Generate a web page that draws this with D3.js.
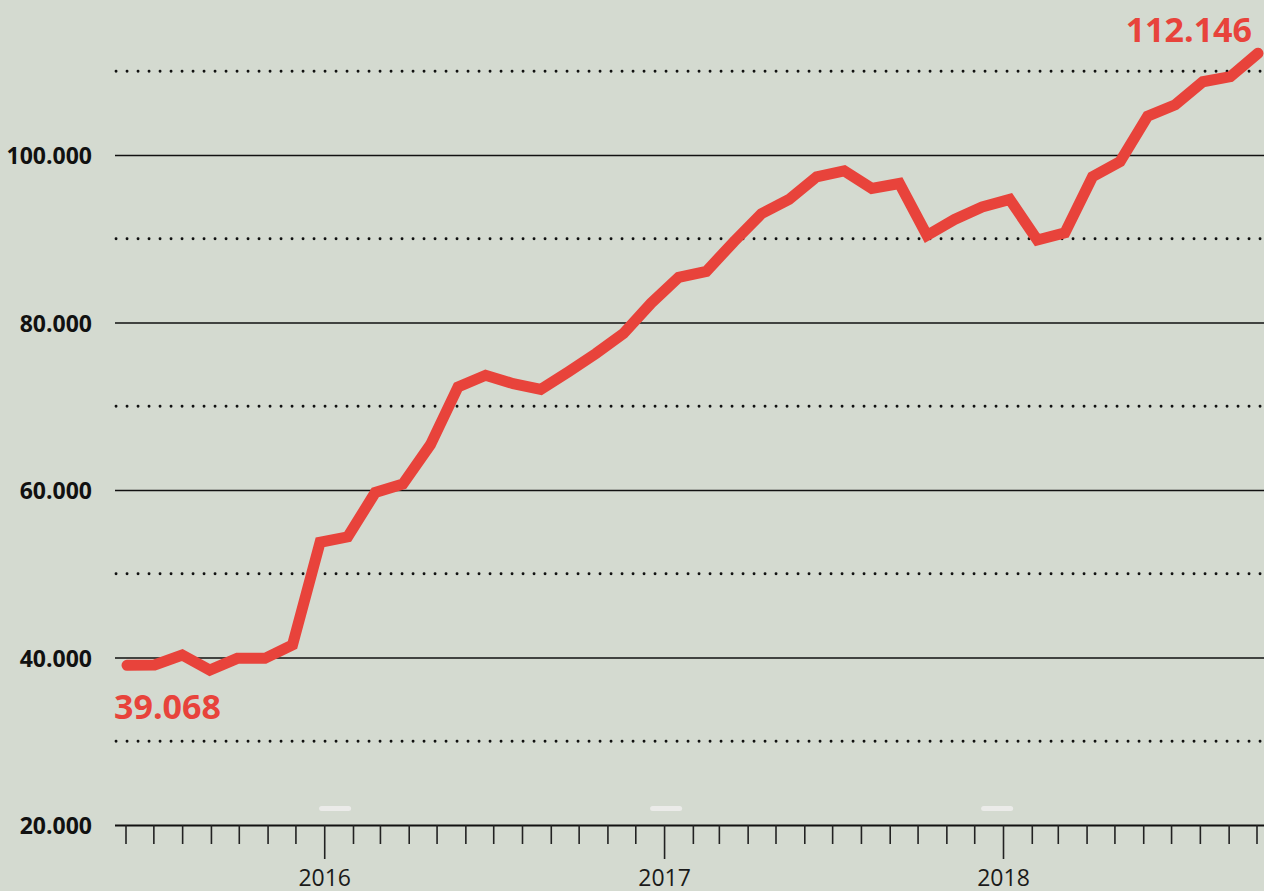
<!DOCTYPE html>
<html>
<head>
<meta charset="utf-8">
<script src="https://cdn.jsdelivr.net/npm/d3@7"></script>
<style>
    html, body { margin:0; padding:0; background:#d4dad0; }
    svg { display:block; font-family:"Open Sans", "Noto Sans", sans-serif; }
</style>
</head>
<body>
<div id="chart"></div>
<script>
//DATA
const months = [
    "2015-06","2015-07","2015-08","2015-09","2015-10","2015-11","2015-12",
    "2016-01","2016-02","2016-03","2016-04","2016-05","2016-06","2016-07",
    "2016-08","2016-09","2016-10","2016-11","2016-12","2017-01","2017-02",
    "2017-03","2017-04","2017-05","2017-06","2017-07","2017-08","2017-09",
    "2017-10","2017-11","2017-12","2018-01","2018-02","2018-03","2018-04",
    "2018-05","2018-06","2018-07","2018-08","2018-09","2018-10","2018-11"
];
const values = [
    39068, 39100, 40300, 38500, 39900, 39900, 41500,
    53750, 54400, 59700, 60700, 65400, 72300, 73700,
    72700, 72000, 74100, 76300, 78700, 82300, 85400,
    86100, 89650, 93000, 94700, 97400, 98100, 96000,
    96600, 90400, 92300, 93800, 94700, 89850, 90700,
    97400, 99200, 104650, 106000, 108750, 109350, 112146
];
const solidTicks = [40000, 60000, 80000, 100000];
const dottedTicks = [30000, 50000, 70000, 90000, 110000];
const yLabelTicks = [20000, 40000, 60000, 80000, 100000];
const yearMarks = ["2016-01", "2017-01", "2018-01"];
const axisStart = "2015-06-01";
const axisEnd = "2018-10-01";

//SETTINGS
const width = 1264;
const height = 891;
const RED = "#e8433b";
const INK = "#111";

const svg = d3.select("#chart").append("svg")
    .attr("width", width)
    .attr("height", height);

svg.append("rect")
    .attr("width", width)
    .attr("height", height)
    .attr("fill", "#d4dad0");

//scales
const y = d3.scaleLinear().domain([20000, 100000]).range([825, 155]);
const x = d3.scalePoint().domain(months).range([127, 1258]);
const parse = d3.timeParse("%Y-%m-%d");
const xTime = d3.scaleTime().domain([parse(axisStart), parse(axisEnd)]).range([126, 1257]);

const gridLeft = 115;
const gridRight = width;
const fmt = v => d3.format(",")(v).replace(/,/g, ".");

//grid
svg.append("g").attr("class", "grid-dotted")
    .selectAll("line").data(dottedTicks)
    .join("line")
        .attr("x1", gridLeft + 1)
        .attr("x2", gridRight)
        .attr("y1", d => y(d))
        .attr("y2", d => y(d))
        .attr("stroke", INK)
        .attr("stroke-width", 2.8)
        .attr("stroke-linecap", "round")
        .attr("stroke-dasharray", "0.1,10.9");

svg.append("g").attr("class", "grid-solid")
    .selectAll("line").data(solidTicks)
    .join("line")
        .attr("x1", gridLeft)
        .attr("x2", gridRight)
        .attr("y1", d => y(d) + 0.5)
        .attr("y2", d => y(d) + 0.5)
        .attr("stroke", INK)
        .attr("stroke-width", 1.4);

//y labels
svg.append("g").attr("class", "y-labels")
    .selectAll("text").data(yLabelTicks)
    .join("text")
        .attr("x", 92)
        .attr("y", d => y(d))
        .attr("text-anchor", "end")
        .attr("dominant-baseline", "central")
        .attr("font-size", 23)
        .attr("font-weight", 700)
        .attr("fill", INK)
        .text(d => fmt(d));

//x axis
const axisG = svg.append("g").attr("class", "x-axis");
axisG.append("line")
    .attr("x1", gridLeft)
    .attr("x2", gridRight)
    .attr("y1", y(20000) + 0.5)
    .attr("y2", y(20000) + 0.5)
    .attr("stroke", INK)
    .attr("stroke-width", 2);

const monthTicks = xTime.ticks(d3.timeMonth.every(1));
axisG.selectAll("line.minor").data(monthTicks.filter(d => d.getMonth() !== 0))
    .join("line")
        .attr("class", "minor")
        .attr("x1", d => xTime(d))
        .attr("x2", d => xTime(d))
        .attr("y1", y(20000))
        .attr("y2", y(20000) + 19)
        .attr("stroke", "#222")
        .attr("stroke-width", 1.6);

const yearTicks = xTime.ticks(d3.timeYear.every(1));
axisG.selectAll("line.major").data(yearTicks)
    .join("line")
        .attr("class", "major")
        .attr("x1", d => xTime(d))
        .attr("x2", d => xTime(d))
        .attr("y1", y(20000))
        .attr("y2", y(20000) + 34)
        .attr("stroke", "#222")
        .attr("stroke-width", 1.6);

axisG.selectAll("text").data(yearTicks)
    .join("text")
        .attr("x", d => xTime(d))
        .attr("y", 886)
        .attr("text-anchor", "middle")
        .attr("font-size", 23)
        .attr("fill", "#1a1a1a")
        .text(d => d3.timeFormat("%Y")(d));

//small light markers above the axis
svg.append("g").attr("class", "year-marks")
    .selectAll("rect").data(yearMarks)
    .join("rect")
        .attr("x", d => x(d) - 1)
        .attr("y", 806)
        .attr("width", 32)
        .attr("height", 5)
        .attr("rx", 2.5)
        .attr("fill", "#ebebe9");

//line
const line = d3.line()
    .x((d, i) => x(months[i]))
    .y(d => y(d));

svg.append("path")
    .datum(values)
    .attr("d", line)
    .attr("fill", "none")
    .attr("stroke", RED)
    .attr("stroke-width", 11)
    .attr("stroke-linecap", "round")
    .attr("stroke-linejoin", "miter");

//first / last value labels
const first = values[0];
const last = values[values.length - 1];
svg.append("text")
    .attr("x", x(months[0]) - 13)
    .attr("y", y(first) + 54)
    .attr("font-size", 34)
    .attr("font-weight", 700)
    .attr("fill", RED)
    .text(fmt(first));

svg.append("text")
    .attr("x", x(months[months.length - 1]) - 6)
    .attr("y", y(last) - 11)
    .attr("text-anchor", "end")
    .attr("font-size", 34)
    .attr("font-weight", 700)
    .attr("fill", RED)
    .text(fmt(last));
</script>
</body>
</html>
